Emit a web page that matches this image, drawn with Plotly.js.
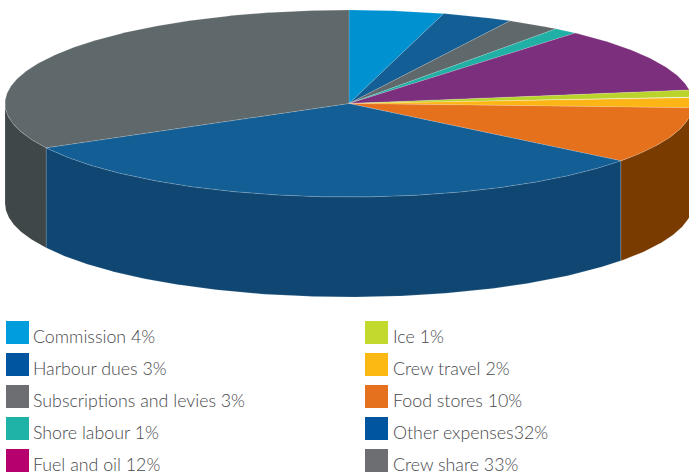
<!DOCTYPE html>
<html>
<head>
<meta charset="utf-8">
<script src="https://cdn.plot.ly/plotly-3.0.1.min.js"></script>
<style>html,body{margin:0;padding:0;background:#fff;overflow:hidden}#chart{width:689px;height:476px}</style>
</head>
<body>
<div id="chart"></div>
<script>
// Category names and printed shares
const categories = ["Commission","Harbour dues","Subscriptions and levies","Shore labour","Fuel and oil","Ice","Crew travel","Food stores","Other expenses","Crew share"];
const legendLabels = ["Commission 4%","Harbour dues 3%","Subscriptions and levies 3%","Shore labour 1%","Fuel and oil 12%","Ice 1%","Crew travel 2%","Food stores 10%","Other expenses32%","Crew share 33%"];
// Slice sizes (percent)
const sliceValues = [4.44,3.31,2.53,1.14,11.28,1.19,1.83,9.78,31.64,32.86];
// Colours
const topColors = ["#0091d0","#135e94","#5f686a","#20b0a5","#7c2f7c","#bad42c","#fdb515","#e5711d","#135e94","#5f686a"];
const wallColors = ["#00608c","#0f4672","#3f4748","#157a72","#542054","#7f9320","#a87a0e","#7a3b00","#0f4672","#3f4748"];
const legendColors = ["#009ddc","#0055a0","#6d6e71","#1fb2a6","#b5006e","#c4d92e","#fdb913","#e5711e","#0055a0","#6d6e71"];

// Projection of the tilted disc in page units
const CX = 349, CY = 103.5, RX = 344, RY = 93.5, DEPTH = 100;
const total = sliceValues.reduce((a, b) => a + b, 0);
const px = d => CX + RX * Math.sin(d * Math.PI / 180);
const py = d => CY - RY * Math.cos(d * Math.PI / 180);
function arc(a, b) {
  const n = Math.max(2, Math.ceil((b - a) * 2));
  const out = [];
  for (let i = 0; i <= n; i++) out.push(a + (b - a) * i / n);
  return out;
}
const edge = "rgba(255,255,255,0.3)";
const walls = [], tops = [];
let cur = 0;
sliceValues.forEach((v, i) => {
  const a = cur, b = cur + v / total * 360;
  cur = b;
  const wa = Math.max(a, 90), wb = Math.min(b, 270);
  if (wb > wa) {
    const t = arc(wa, wb);
    walls.push({
      type: "scatter", mode: "lines", fill: "toself", fillcolor: wallColors[i],
      x: t.map(px).concat(t.slice().reverse().map(px)).concat([px(wa)]),
      y: t.map(py).concat(t.slice().reverse().map(d => py(d) + DEPTH)).concat([py(wa)]),
      line: {color: edge, width: 0.5}, hoverinfo: "text", text: categories[i], showlegend: false
    });
  }
  const s = arc(a, b);
  tops.push({
    type: "scatter", mode: "lines", fill: "toself", fillcolor: topColors[i],
    x: [CX].concat(s.map(px)).concat([CX]),
    y: [CY].concat(s.map(py)).concat([CY]),
    line: {color: edge, width: 0.5}, hoverinfo: "text", text: legendLabels[i], showlegend: false
  });
});
const data = walls.concat(tops);

// Legend: two columns of five rows
const shapes = [], annotations = [];
legendLabels.forEach((lab, i) => {
  const col = i < 5 ? 0 : 1, row = i % 5;
  const x0 = col ? 365 : 6, y0 = 321 + row * 32;
  shapes.push({type: "rect", xref: "x", yref: "y", x0: x0, x1: x0 + 23, y0: y0, y1: y0 + 23,
    fillcolor: legendColors[i], line: {width: 0}});
  annotations.push({xref: "x", yref: "y", x: x0 + (col ? 26 : 25), y: y0 + 14.8, text: lab, showarrow: false,
    xanchor: "left", yanchor: "middle", font: {family: "Lato, sans-serif", weight: 300, size: 17.8, color: "#48494c"}});
});

Plotly.newPlot("chart", data, {
  width: 689, height: 476,
  margin: {l: 0, r: 0, t: 0, b: 0},
  paper_bgcolor: "#fff", plot_bgcolor: "#fff",
  xaxis: {range: [0, 689], visible: false, fixedrange: true},
  yaxis: {range: [476, 0], visible: false, fixedrange: true},
  shapes: shapes, annotations: annotations, showlegend: false
}, {displayModeBar: false, staticPlot: true});
</script>
</body>
</html>
